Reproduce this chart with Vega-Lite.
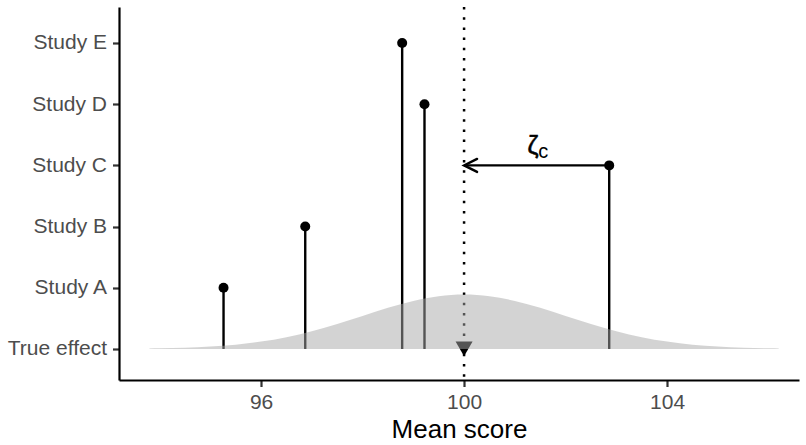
{
  "$schema": "https://vega.github.io/schema/vega-lite/v6.json",
  "width": 680,
  "height": 373,
  "autosize": "none",
  "padding": {"left": 119, "top": 7, "right": 7, "bottom": 65},
  "background": "white",
  "config": {
    "view": {"stroke": null},
    "font": "Liberation Sans",
    "axis": {
      "grid": false,
      "domainColor": "black",
      "domainWidth": 2.2,
      "tickColor": "#333333",
      "tickWidth": 2.2,
      "tickSize": 6.5,
      "labelColor": "#4d4d4d",
      "labelFontSize": 21,
      "labelFont": "Liberation Sans",
      "titleFont": "Liberation Sans",
      "titleFontWeight": "normal",
      "titleColor": "black",
      "titleFontSize": 26
    }
  },
  "datasets": {
    "studies": [
      {"study": "Study A", "level": 1, "mean": 95.26},
      {"study": "Study B", "level": 2, "mean": 96.87},
      {"study": "Study C", "level": 3, "mean": 102.86},
      {"study": "Study D", "level": 4, "mean": 99.22},
      {"study": "Study E", "level": 5, "mean": 98.78}
    ],
    "truth": [{"mean": 100, "level": 0}],
    "arrow": [{"from": 102.86, "to": 100, "level": 3, "sym": "ζ", "symx": 101.36, "sub": "c", "subx": 101.46}],
    "density": [
      {"x": 93.8, "h": 0.006},
      {"x": 94.0, "h": 0.0099},
      {"x": 94.5, "h": 0.0203},
      {"x": 95.0, "h": 0.0391},
      {"x": 95.5, "h": 0.0708},
      {"x": 96.0, "h": 0.1204},
      {"x": 96.5, "h": 0.1925},
      {"x": 97.0, "h": 0.289},
      {"x": 97.5, "h": 0.4074},
      {"x": 98.0, "h": 0.5398},
      {"x": 98.5, "h": 0.6718},
      {"x": 99.0, "h": 0.7854},
      {"x": 99.5, "h": 0.8626},
      {"x": 100.0, "h": 0.89},
      {"x": 100.5, "h": 0.8626},
      {"x": 101.0, "h": 0.7854},
      {"x": 101.5, "h": 0.6718},
      {"x": 102.0, "h": 0.5398},
      {"x": 102.5, "h": 0.4074},
      {"x": 103.0, "h": 0.289},
      {"x": 103.5, "h": 0.1925},
      {"x": 104.0, "h": 0.1204},
      {"x": 104.5, "h": 0.0708},
      {"x": 105.0, "h": 0.0391},
      {"x": 105.5, "h": 0.0203},
      {"x": 106.0, "h": 0.0099},
      {"x": 106.2, "h": 0.006}
    ]
  },
  "encoding": {
    "x": {"type": "quantitative", "scale": {"domain": [93.2, 106.6], "nice": false, "zero": false}},
    "y": {"type": "quantitative", "scale": {"domain": [-0.507, 5.588], "nice": false, "zero": false}}
  },
  "layer": [
    {
      "data": {"name": "truth"},
      "mark": {"type": "rule", "color": "black", "strokeWidth": 2.5, "strokeDash": [2.5, 7.7]},
      "encoding": {
        "x": {"field": "mean", "type": "quantitative", "axis": {"values": [96, 100, 104], "title": "Mean score", "labelPadding": 5, "titlePadding": 4}}
      }
    },
    {
      "data": {"name": "studies"},
      "mark": {"type": "rule", "color": "black", "strokeWidth": 2.4},
      "encoding": {
        "x": {"field": "mean", "type": "quantitative"},
        "y": {"field": "level", "type": "quantitative", "axis": {"values": [0, 1, 2, 3, 4, 5], "title": null, "labelPadding": 6, "labelExpr": "['True effect','Study A','Study B','Study C','Study D','Study E'][datum.value]"}},
        "y2": {"datum": 0}
      }
    },
    {
      "data": {"name": "studies"},
      "mark": {"type": "point", "filled": true, "color": "black", "size": 100, "opacity": 1},
      "encoding": {
        "x": {"field": "mean", "type": "quantitative"},
        "y": {"field": "level", "type": "quantitative"}
      }
    },
    {
      "data": {"name": "truth"},
      "mark": {"type": "point", "shape": "triangle-down", "filled": true, "color": "black", "size": 290, "opacity": 1},
      "encoding": {
        "x": {"field": "mean", "type": "quantitative"},
        "y": {"field": "level", "type": "quantitative"}
      }
    },
    {
      "data": {"name": "arrow"},
      "mark": {"type": "rule", "color": "black", "strokeWidth": 2.4},
      "encoding": {
        "x": {"field": "from", "type": "quantitative"},
        "x2": {"field": "to"},
        "y": {"field": "level", "type": "quantitative"}
      }
    },
    {
      "data": {"name": "arrow"},
      "mark": {"type": "point", "shape": "M2,-1L0,0L2,1", "filled": false, "stroke": "black", "strokeWidth": 2.4, "strokeCap": "round", "strokeJoin": "miter", "size": 169, "opacity": 1},
      "encoding": {
        "x": {"field": "to", "type": "quantitative"},
        "y": {"field": "level", "type": "quantitative"}
      }
    },
    {
      "data": {"name": "arrow"},
      "mark": {"type": "text", "fontSize": 25, "color": "black", "baseline": "alphabetic", "align": "center", "dy": -11, "font": "Liberation Sans", "stroke": "black", "strokeWidth": 0.6},
      "encoding": {
        "x": {"field": "symx", "type": "quantitative"},
        "y": {"field": "level", "type": "quantitative"},
        "text": {"field": "sym"}
      }
    },
    {
      "data": {"name": "arrow"},
      "mark": {"type": "text", "fontSize": 20, "color": "black", "baseline": "alphabetic", "align": "left", "dy": -7, "font": "Liberation Sans"},
      "encoding": {
        "x": {"field": "subx", "type": "quantitative"},
        "y": {"field": "level", "type": "quantitative"},
        "text": {"field": "sub"}
      }
    },
    {
      "data": {"name": "density"},
      "mark": {"type": "area", "color": "#a8a8a8", "opacity": 0.5, "interpolate": "monotone"},
      "encoding": {
        "x": {"field": "x", "type": "quantitative"},
        "y": {"field": "h", "type": "quantitative"},
        "y2": {"datum": 0}
      }
    }
  ]
}
